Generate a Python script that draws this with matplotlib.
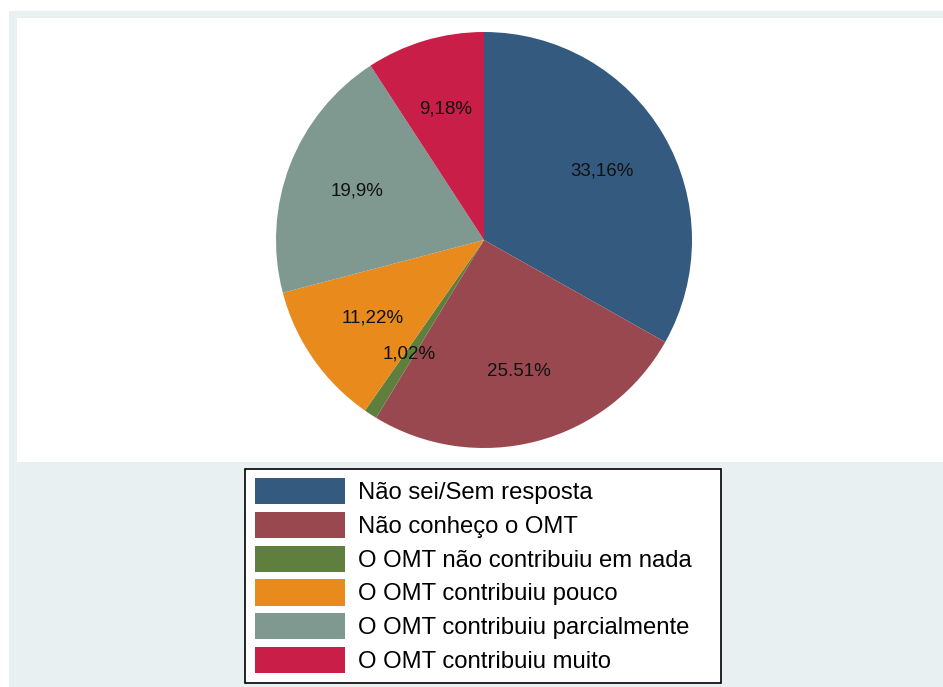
import matplotlib
matplotlib.use("Agg")
import matplotlib.pyplot as plt
from matplotlib.patches import Rectangle

plt.rcParams['font.family'] = ['Liberation Sans', 'DejaVu Sans']

# data
categories = ['Não sei/Sem resposta', 'Não conheço o OMT', 'O OMT não contribuiu em nada',
              'O OMT contribuiu pouco', 'O OMT contribuiu parcialmente', 'O OMT contribuiu muito']
values = [33.16, 25.51, 1.02, 11.22, 19.9, 9.18]
pct_labels = ['33,16%', '25.51%', '1,02%', '11,22%', '19,9%', '9,18%']
colors = ['#345A80', '#9A4850', '#5F7F3F', '#E88A1C', '#7F9990', '#C81E48']

W, H = 943, 687
fig = plt.figure(figsize=(W/100, H/100), dpi=100)
fig.patch.set_facecolor('white')

# stata-like graph region, plot region and legend box
fig.patches.append(Rectangle((9/W, 0), 1, 1 - 11/H, transform=fig.transFigure,
                             facecolor='#E8F0F2', edgecolor='none', zorder=-10))
fig.patches.append(Rectangle((17/W, 1 - 462/H), 1, (462 - 18)/H, transform=fig.transFigure,
                             facecolor='white', edgecolor='none', zorder=-9))
fig.patches.append(Rectangle((245/W, 1 - 683/H), (721 - 245)/W, (683 - 469)/H,
                             transform=fig.transFigure, facecolor='white',
                             edgecolor='black', linewidth=1.2, zorder=-8))

# pie axes: center at (484, 240) px, radius 208 px
cx, cy, r, half = 484, 240, 208, 230
ax = fig.add_axes([(cx - half)/W, 1 - (cy + half)/H, 2*half/W, 2*half/H])
ax.set_axis_off()

it = iter(pct_labels)
wedges, texts, autotexts = ax.pie(values, colors=colors, startangle=90, counterclock=False,
                                  autopct=lambda p: next(it), pctdistance=0.655,
                                  wedgeprops=dict(linewidth=0),
                                  textprops=dict(fontsize=13.5, color='#111111'))
ax.set_xlim(-half/r, half/r)
ax.set_ylim(-half/r, half/r)
ax.set_aspect('equal')

leg = fig.legend(wedges, categories, loc='upper left',
                 bbox_to_anchor=(255/W, 1 - 478/H), fontsize=17.2,
                 handlelength=3.78, handleheight=1.32, handletextpad=0.55,
                 labelspacing=0.31, borderpad=0, borderaxespad=0,
                 frameon=False)

fig.savefig('out.png', dpi=100)
